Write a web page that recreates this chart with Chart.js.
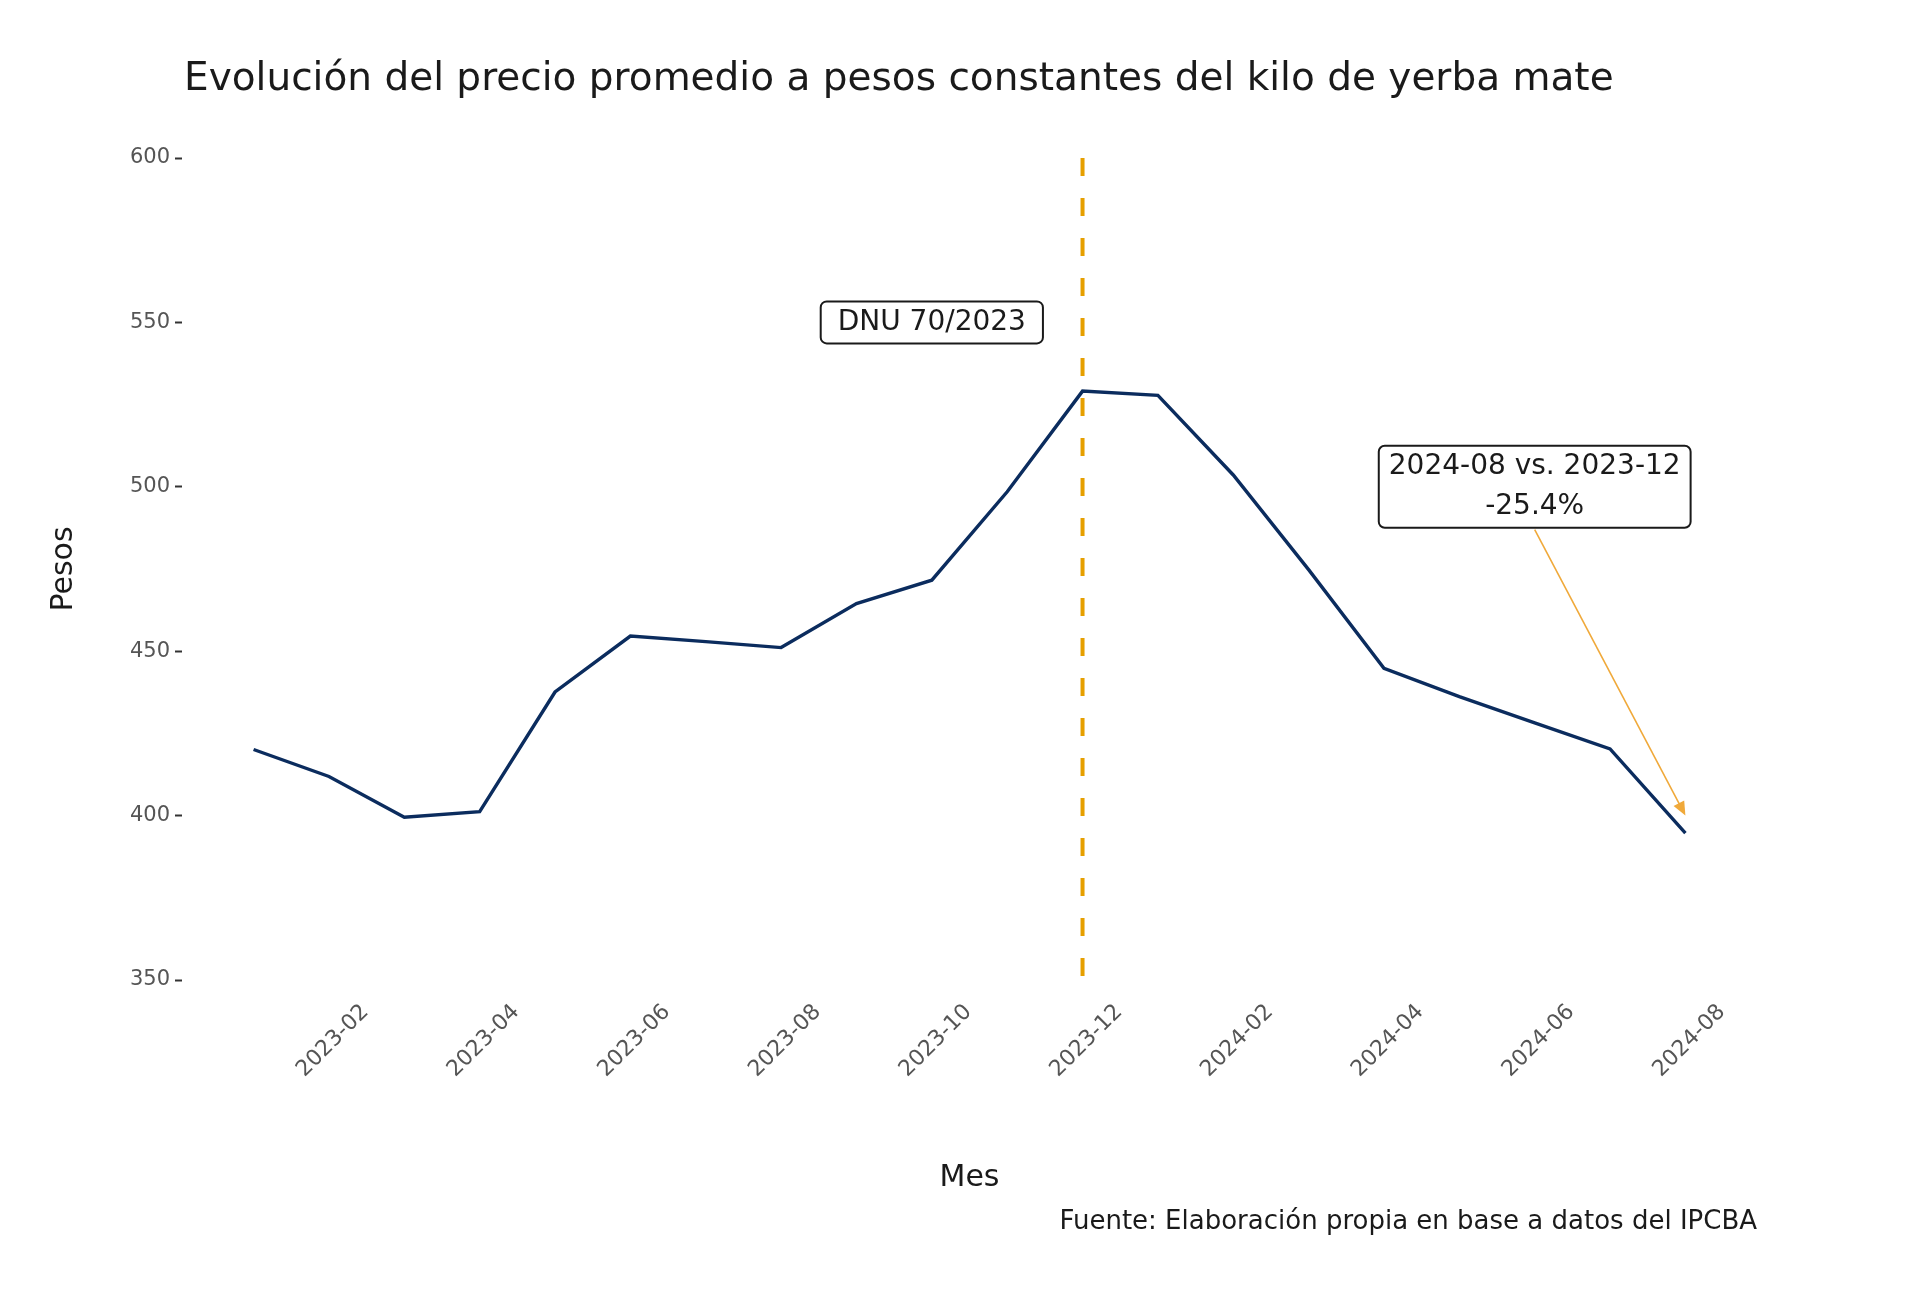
<!DOCTYPE html>
<html>
<head>
<meta charset="utf-8">
<script src="https://cdn.jsdelivr.net/npm/chart.js@4.4.1/dist/chart.umd.min.js"></script>
<style>
  html, body { margin: 0; padding: 0; background: #ffffff; }
  canvas { display: block; }
</style>
</head>
<body>
<canvas id="c" width="1920" height="1302"></canvas>
<script>
// ---- data ----
const months = ['2023-01','2023-02','2023-03','2023-04','2023-05','2023-06','2023-07','2023-08','2023-09','2023-10',
                '2023-11','2023-12','2024-01','2024-02','2024-03','2024-04','2024-05','2024-06','2024-07','2024-08'];
const prices = [420.1, 411.9, 399.5, 401.2, 437.6, 454.6, 452.9, 451.1, 464.5, 471.6,
                498.5, 529.1, 527.8, 503.6, 474.8, 444.8, 436.2, 428.2, 420.3, 394.7];
const tickLabels = ['2023-02','2023-04','2023-06','2023-08','2023-10','2023-12','2024-02','2024-04','2024-06','2024-08'];
const yTicks = [350, 400, 450, 500, 550, 600];

const titleText = 'Evolución del precio promedio a pesos constantes del kilo de yerba mate';
const captionText = 'Fuente: Elaboración propia en base a datos del IPCBA';
const xTitle = 'Mes';
const yTitle = 'Pesos';

const eventMonth = '2023-12';
const eventLines = ['DNU 70/2023'];
const eventAt = ['2023-10', 550];
const changeLines = ['2024-08 vs. 2023-12', '-25.4%'];
const changeAt = ['2024-06', 500];
const arrowFrom = ['2024-06', 487];
const arrowTo = ['2024-08', 400];

// ---- styles ----
const FONT = '"DejaVu Sans", "Open Sans", sans-serif';
const LINE_COLOR = '#0b2c5e';
const ORANGE = '#E69F00';
const ARROW = '#F0A93A';
const TICK_GREY = '#555555';
const TEXT_DARK = '#1a1a1a';

function drawLabelBox(ctx, lines, cx, cy, padX) {
  ctx.save();
  ctx.font = '28px ' + FONT;
  const lineGap = 40;
  let w = 0;
  lines.forEach(l => { w = Math.max(w, ctx.measureText(l).width); });
  const bw = w + 2 * padX;
  const bh = (lines.length - 1) * lineGap + 42;
  const x0 = cx - bw / 2, y0 = cy - bh / 2;
  ctx.beginPath();
  ctx.roundRect(x0, y0, bw, bh, 6);
  ctx.fillStyle = '#ffffff';
  ctx.fill();
  ctx.lineWidth = 2;
  ctx.strokeStyle = '#1a1a1a';
  ctx.stroke();
  ctx.fillStyle = TEXT_DARK;
  ctx.textAlign = 'center';
  ctx.textBaseline = 'middle';
  lines.forEach((l, i) => {
    ctx.fillText(l, cx, cy + (i - (lines.length - 1) / 2) * lineGap);
  });
  ctx.restore();
}

const deco = {
  id: 'deco',
  beforeDatasetsDraw(chart) {
    const {ctx, chartArea: a, scales: {x}} = chart;
    const px = x.getPixelForValue(months.indexOf(eventMonth));
    ctx.save();
    ctx.strokeStyle = ORANGE;
    ctx.lineWidth = 4;
    ctx.setLineDash([18, 22]);
    ctx.beginPath();
    ctx.moveTo(px, a.top);
    ctx.lineTo(px, a.bottom);
    ctx.stroke();
    ctx.restore();
  },
  afterDatasetsDraw(chart) {
    const {ctx, scales: {x, y}} = chart;
    drawLabelBox(ctx, eventLines, x.getPixelForValue(months.indexOf(eventAt[0])), y.getPixelForValue(eventAt[1]), 17);
    const x1 = x.getPixelForValue(months.indexOf(arrowFrom[0])), y1 = y.getPixelForValue(arrowFrom[1]);
    const x2 = x.getPixelForValue(months.indexOf(arrowTo[0])), y2 = y.getPixelForValue(arrowTo[1]);
    const ang = Math.atan2(y2 - y1, x2 - x1);
    const hl = 14, hw = 6;
    ctx.save();
    ctx.strokeStyle = ARROW;
    ctx.fillStyle = ARROW;
    ctx.lineWidth = 1.6;
    ctx.beginPath();
    ctx.moveTo(x1, y1);
    ctx.lineTo(x2 - Math.cos(ang) * hl * 0.8, y2 - Math.sin(ang) * hl * 0.8);
    ctx.stroke();
    ctx.beginPath();
    ctx.moveTo(x2, y2);
    ctx.lineTo(x2 - Math.cos(ang) * hl - Math.sin(ang) * hw, y2 - Math.sin(ang) * hl + Math.cos(ang) * hw);
    ctx.lineTo(x2 - Math.cos(ang) * hl + Math.sin(ang) * hw, y2 - Math.sin(ang) * hl - Math.cos(ang) * hw);
    ctx.closePath();
    ctx.fill();
    ctx.restore();
    drawLabelBox(ctx, changeLines, x.getPixelForValue(months.indexOf(changeAt[0])), y.getPixelForValue(changeAt[1]), 10);
  },
  afterDraw(chart) {
    const {ctx, chartArea: a, scales: {x}} = chart;
    ctx.save();
    ctx.fillStyle = TEXT_DARK;
    ctx.font = '39px ' + FONT;
    ctx.textAlign = 'left';
    ctx.textBaseline = 'middle';
    ctx.fillText(titleText, a.left + 2, 80);
    ctx.font = '26px ' + FONT;
    ctx.textAlign = 'right';
    ctx.fillText(captionText, a.right, 1222);
    ctx.font = '22px ' + FONT;
    ctx.fillStyle = TICK_GREY;
    ctx.textAlign = 'center';
    x.ticks.forEach(t => {
      const lbl = months[t.value];
      const px = x.getPixelForValue(t.value);
      ctx.save();
      ctx.translate(px + 4, a.bottom + 61);
      ctx.rotate(-Math.PI / 4);
      ctx.fillText(lbl, 0, 0);
      ctx.restore();
    });
    ctx.restore();
  }
};

new Chart(document.getElementById('c'), {
  type: 'line',
  data: {
    datasets: [{
      data: prices.map((v, i) => ({x: i, y: v})),
      borderColor: LINE_COLOR,
      borderWidth: 3.4,
      pointRadius: 0,
      tension: 0,
      fill: false
    }]
  },
  options: {
    responsive: false,
    animation: false,
    devicePixelRatio: 1,
    layout: {padding: {top: 158, right: 163, bottom: 0, left: 0}},
    plugins: {legend: {display: false}, tooltip: {enabled: false}, title: {display: false}},
    scales: {
      x: {
        type: 'linear',
        min: -0.95,
        max: 19.95,
        afterBuildTicks: s => { s.ticks = tickLabels.map(l => ({value: months.indexOf(l)})); },
        ticks: {display: false},
        grid: {display: false},
        border: {display: false},
        title: {display: true, text: xTitle, color: TEXT_DARK, font: {family: FONT, size: 30}, padding: {top: 0, bottom: 106}},
        afterFit: s => { s.height = 322; }
      },
      y: {
        min: 350,
        max: 600,
        afterBuildTicks: s => { s.ticks = yTicks.map(v => ({value: v})); },
        ticks: {color: TICK_GREY, font: {family: FONT, size: 21}, padding: 5},
        grid: {display: true, drawOnChartArea: false, drawTicks: true, tickLength: 7, color: '#333333', tickWidth: 2},
        border: {display: false},
        title: {display: true, text: yTitle, color: TEXT_DARK, font: {family: FONT, size: 30}, padding: {top: 46, bottom: 0}},
        afterFit: s => { s.width = 182; }
      }
    }
  },
  plugins: [deco]
});
</script>
</body>
</html>
